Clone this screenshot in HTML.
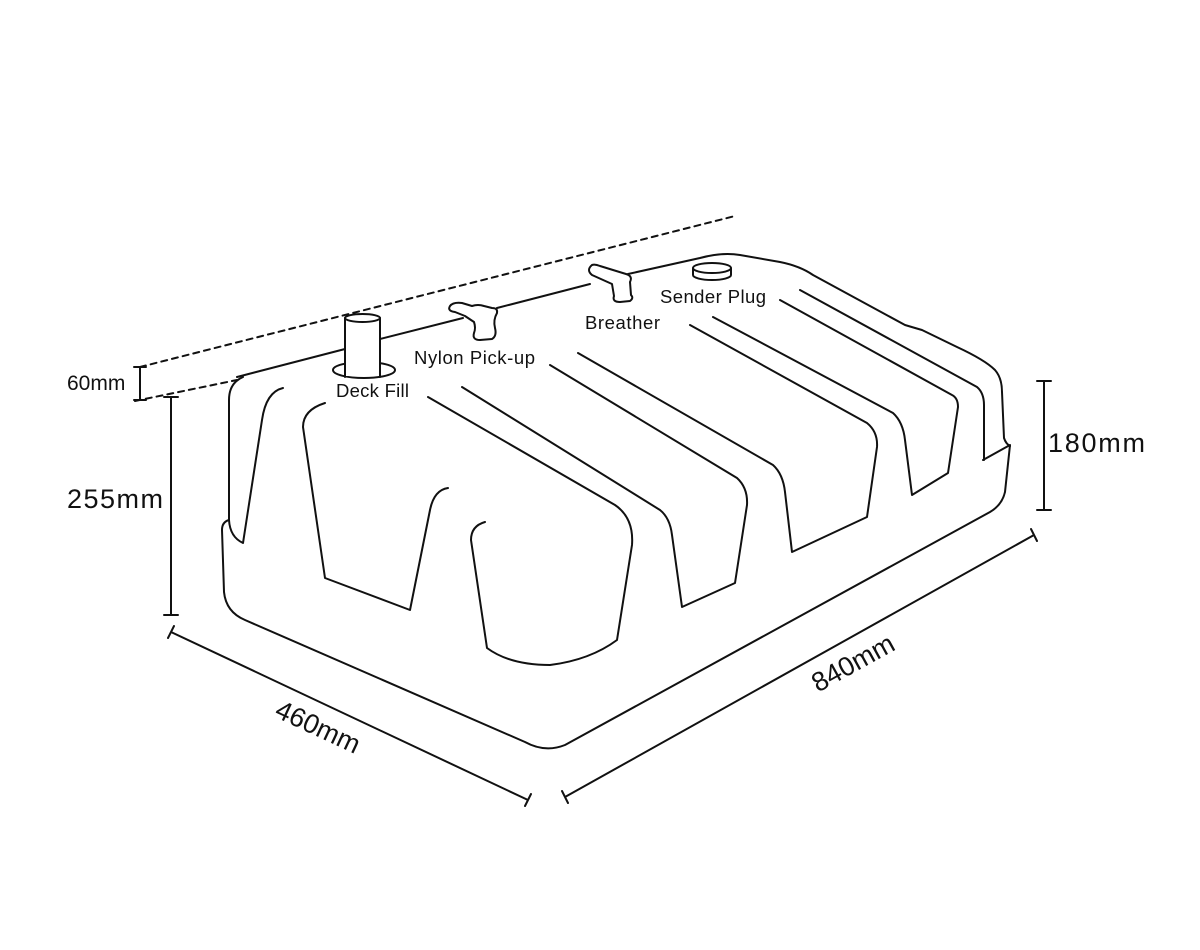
<!DOCTYPE html>
<html><head><meta charset="utf-8"><style>
html,body{margin:0;padding:0;background:#fff;width:1200px;height:950px;overflow:hidden}
svg{display:block}
text{font-family:"Liberation Sans",sans-serif;fill:#111}
</style></head><body>
<svg width="1200" height="950" viewBox="0 0 1200 950" xmlns="http://www.w3.org/2000/svg">
<g fill="none" stroke="#111" stroke-width="2" stroke-linejoin="round" stroke-linecap="round">
<line x1="140" y1="367" x2="735" y2="216" stroke-dasharray="6,5"/>
<line x1="135" y1="401" x2="237" y2="380" stroke-dasharray="6,5"/>
<path d="M237,377 L345,349 M380,339 L463,318 M497,308 L590,284 M628,274 L700,258 Q722,252 740,255 L780,262 Q800,266 813,275 L905,325 Q915,328 922,330 L957,347 Q985,360 995,370 Q1002,378 1002,392 L1004,438 Q1006,444 1010,446"/>
<path d="M983,460 L1010,445 L1005,492 Q1002,505 990,512 L565,745 Q545,753 525,742 L245,620 Q226,612 224,592 L222,530 Q222,522 229,520"/>
<path d="M243,377 Q229,383 229,400 L229,520 Q230,537 243,543 L262,420 Q266,392 283,388"/>
<path d="M325,403 Q303,410 303,427 L325,578 L410,610 L430,510 Q434,490 448,488"/>
<path d="M428,397 L615,505 Q634,518 632,545 L617,640 Q590,660 550,665 Q510,665 487,648 L471,540 Q471,526 485,522"/>
<path d="M462,387 L660,510 Q670,518 672,535 L682,607 L735,583 L747,505 Q748,488 737,478 L550,365"/>
<path d="M578,353 L773,465 Q783,474 785,492 L792,552 L867,517 L877,447 Q878,432 867,423 L690,325"/>
<path d="M713,317 L893,413 Q903,422 905,440 L912,495 L948,473 L958,407 Q958,398 952,395 L780,300"/>
<path d="M800,290 L977,387 Q984,393 984,405 L984,460"/>
<path d="M333,370 A31,8 0 0,0 395,370 A31,8 0 0,0 333,370" />
<rect x="345" y="318" width="35" height="58" fill="#fff" stroke="none"/>
<ellipse cx="362.5" cy="318" rx="17.5" ry="4"/>
<path d="M345,318 L345,377 M380,318 L380,377"/>
<path d="M450,306 Q447,311 455,312 L465,316 L474,322 Q476,328 474,333 Q472,340 480,340 L492,339 Q497,336 495,328 Q493,320 497,313 Q498,308 492,308 L484,306 Q478,304 472,306 L462,303 Q453,302 450,306Z" fill="#fff"/>
<path d="M592,265 Q586,270 592,275 L612,284 L614,296 Q612,302 620,302 L630,301 Q634,298 631,295 L630,282 Q633,276 626,274 L600,266 Q595,264 592,265Z" fill="#fff"/>
<path d="M693,268 L693,275 A19,5 0 0,0 731,275 L731,268"/>
<ellipse cx="712" cy="268" rx="19" ry="5"/>
<path d="M140,367 L140,400 M134,367 L146,367 M134,400 L146,400"/>
<path d="M171,397 L171,615 M164,397 L178,397 M164,615 L178,615"/>
<path d="M1044,381 L1044,510 M1037,381 L1051,381 M1037,510 L1051,510"/>
<path d="M171,632 L528,800 M168,638 L174,626 M525,806 L531,794"/>
<path d="M565,797 L1034,535 M562,791 L568,803 M1031,529 L1037,541"/>
</g>
<g font-size="18.5">
<text x="336" y="397" textLength="73">Deck Fill</text>
<text x="414" y="364" textLength="121">Nylon Pick-up</text>
<text x="585" y="329" textLength="75">Breather</text>
<text x="660" y="303" textLength="106">Sender Plug</text>
</g>
<text x="67" y="390" font-size="21">60mm</text>
<text x="67" y="508" font-size="27" textLength="96">255mm</text>
<text x="1048" y="452" font-size="27" textLength="97">180mm</text>
<text x="318" y="736" font-size="27" text-anchor="middle" transform="rotate(25 318 727)">460mm</text>
<text x="853" y="672" font-size="27" text-anchor="middle" transform="rotate(-29 853 663)">840mm</text>
</svg>
</body></html>
